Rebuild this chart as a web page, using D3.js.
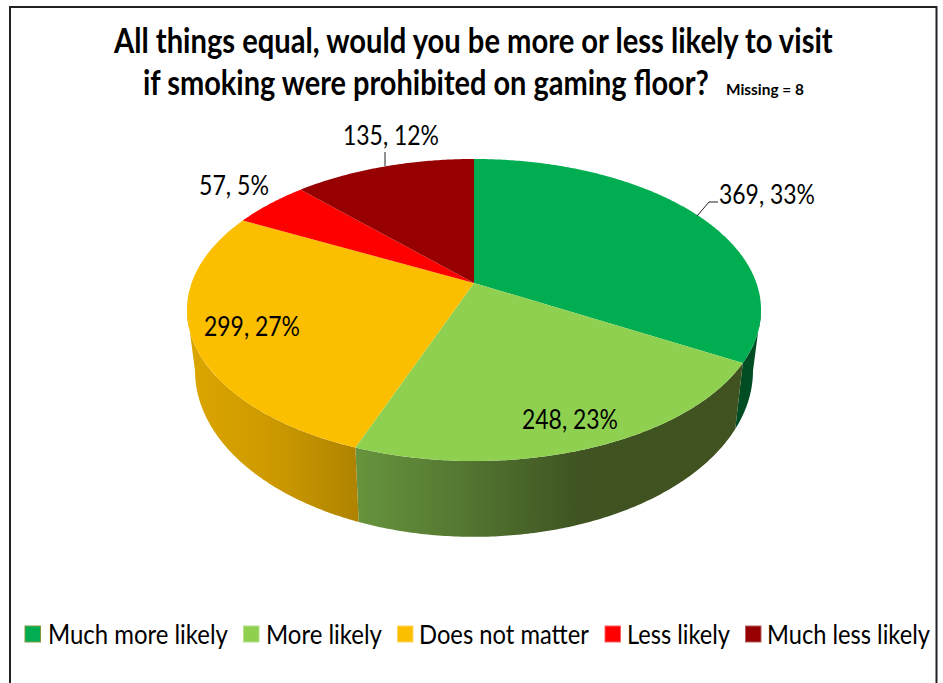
<!DOCTYPE html>
<html lang="en">
<head>
    <meta charset="UTF-8">
    <title>Smoking prohibited on gaming floor</title>
    <script src="https://d3js.org/d3.v7.min.js"></script>
    <style>
        html, body { margin: 0; padding: 0; background: #fff; overflow: hidden; }
        svg { display: block; }
        text { font-family: Lato, "Open Sans", sans-serif; fill: #000; }
    </style>
</head>
<body>
    <svg id="chart" width="943" height="683"></svg>
    <script>
        var categories = ['Much more likely', 'More likely', 'Does not matter', 'Less likely', 'Much less likely'];
        var counts = [369, 248, 299, 57, 135];
        var percents = [33, 23, 27, 5, 12];
        var colors = ['#00AD50', '#8FD050', '#FCBF00', '#FE0000', '#960000'];
        var titleLines = ['All things equal, would you be more or less likely to visit', 'if smoking were prohibited on gaming floor?'];
        var missingNote = 'Missing = 8';

        var svg = d3.select('#chart');
        var defs = svg.append('defs');

        // squeeze a text sideways so it takes the given width
        function fitText(sel, xs, ys, widths) {
            sel.attr('transform', function(d, i) {
                var sx = widths[i] / this.getComputedTextLength();
                return 'translate(' + xs[i] + ',' + ys[i] + ') scale(' + sx + ',1)';
            });
        }

        // frame
        svg.append('rect')
            .attr('x', 10).attr('y', 7).attr('width', 926.5).attr('height', 700)
            .attr('fill', 'none').attr('stroke', '#222').attr('stroke-width', 2);

        // title
        var titleX = [114, 143];
        var titleY = [53, 95];
        var titleWidths = [719, 566];
        svg.selectAll('.title')
            .data(titleLines)
            .enter()
            .append('text')
            .attr('class', 'title')
            .style('font-size', '35px')
            .style('font-weight', 'bold')
            .text(d => d)
            .call(fitText, titleX, titleY, titleWidths);

        svg.selectAll('.missing')
            .data([missingNote])
            .enter()
            .append('text')
            .attr('class', 'missing')
            .style('font-size', '16px')
            .style('font-weight', 'bold')
            .text(d => d)
            .call(fitText, [726], [95], [78]);

        // pie angles, clockwise from the top
        var pie = d3.pie().sort(null).value(d => d);
        var arcs = pie(counts);

        // perspective projection of the pie disc onto the page
        var cx = 474, cy = 283, k = 0.1788, A = 146.2, B = 282.4;
        function project(a) {
            var ux = Math.sin(a), uy = -Math.cos(a);
            var w = 1 - k * uy;
            return [cx + B * ux / w, cy + A * uy / w];
        }
        // lower rim of the wall, narrower and a bit flatter than the top
        function projectBottom(a) {
            var p = project(a);
            return [cx + (p[0] - cx) * 0.972, 341 + (p[1] - cy) * 1.1];
        }
        function sample(a0, a1) {
            var n = Math.max(2, Math.ceil(Math.abs(a1 - a0) / 0.01));
            return d3.range(n + 1).map(i => a0 + (a1 - a0) * i / n);
        }
        var line = d3.line();

        // horizontal shading for the side walls
        var wallStops = [
            { id: 'wall0', x1: 738, x2: 770, stops: [['0%', '#004D24'], ['100%', '#004D24']] },
            { id: 'wall1', x1: 356, x2: 745, stops: [['0%', '#67943D'], ['30%', '#527430'], ['57%', '#3F5422'], ['100%', '#40521F']] },
            { id: 'wall2', x1: 187, x2: 358, stops: [['0%', '#DCA600'], ['50%', '#CC9A00'], ['100%', '#AF8300']] }
        ];
        wallStops.forEach(function(w) {
            var g = defs.append('linearGradient')
                .attr('id', w.id)
                .attr('gradientUnits', 'userSpaceOnUse')
                .attr('x1', w.x1).attr('x2', w.x2).attr('y1', 0).attr('y2', 0);
            w.stops.forEach(s => g.append('stop').attr('offset', s[0]).attr('stop-color', s[1]));
        });

        // walls, only the front part of the rim can be seen
        var rimStart = Math.PI / 2 + Math.asin(k), rimEnd = 3 * Math.PI / 2 - Math.asin(k);
        arcs.forEach(function(d, i) {
            var a0 = Math.max(d.startAngle, rimStart), a1 = Math.min(d.endAngle, rimEnd);
            if (a1 <= a0) return;
            var angles = sample(a0, a1);
            var top = angles.map(project);
            var bottom = angles.slice().reverse().map(projectBottom);
            svg.append('path')
                .attr('class', 'wall')
                .attr('d', line(top.concat(bottom)) + 'Z')
                .attr('fill', 'url(#wall' + i + ')');
        });

        // top faces
        svg.selectAll('.slice')
            .data(arcs)
            .enter()
            .append('path')
            .attr('class', 'slice')
            .attr('d', d => line([[cx, cy]].concat(sample(d.startAngle, d.endAngle).map(project))) + 'Z')
            .attr('fill', (d, i) => colors[i]);

        // leader lines
        var leaderLines = [
            [[697, 216], [709, 202], [718, 202]],
            [[385, 166], [385, 152]]
        ];
        svg.selectAll('.leader')
            .data(leaderLines)
            .enter()
            .append('path')
            .attr('class', 'leader')
            .attr('d', d => line(d))
            .attr('fill', 'none').attr('stroke', '#222').attr('stroke-width', 1);

        // data labels
        var labelX = [719, 522, 204, 199, 343];
        var labelY = [204, 429, 336, 195, 145];
        var labelW = [96, 96, 96, 70, 96];
        svg.selectAll('.label')
            .data(counts)
            .enter()
            .append('text')
            .attr('class', 'label')
            .style('font-size', '27px')
            .text((d, i) => d + ', ' + percents[i] + '%')
            .call(fitText, labelX, labelY, labelW);

        // legend
        var legendSwatchX = [25, 243.5, 397.5, 605, 745.5];
        var legendTextX = [48, 266, 419, 627, 767];
        var legendTextY = [644, 644, 644, 644, 644];
        var legendTextW = [180, 116, 170, 103, 163];
        var legendBorder = ['#7F9A3F', '#B5E08A', '#FFD860', '#FF6060', '#B06060'];
        var legend = svg.selectAll('.legend')
            .data(categories)
            .enter()
            .append('g')
            .attr('class', 'legend');
        legend.append('rect')
            .attr('x', (d, i) => legendSwatchX[i])
            .attr('y', 626).attr('width', 15.5).attr('height', 16)
            .attr('fill', (d, i) => colors[i])
            .attr('stroke', (d, i) => legendBorder[i])
            .attr('stroke-width', 1);
        legend.append('text')
            .style('font-size', '27px')
            .text(d => d)
            .each(function(d, i) {
                d3.select(this).call(fitText, [legendTextX[i]], [legendTextY[i]], [legendTextW[i]]);
            });
    </script>
</body>
</html>
